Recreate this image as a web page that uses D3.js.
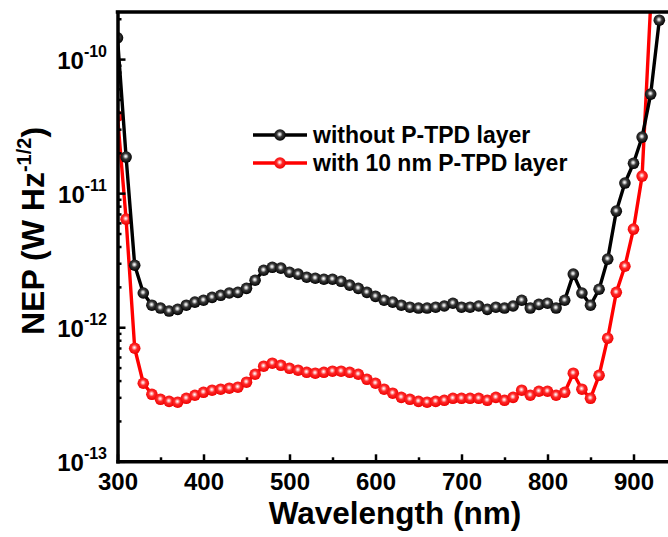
<!DOCTYPE html>
<html>
<head>
<meta charset="utf-8">
<script src="https://cdn.jsdelivr.net/npm/d3@7"></script>
<style>
    html, body { margin: 0; padding: 0; background: #fff; }
    svg { display: block; font-family: Arial, 'Liberation Sans', sans-serif; font-weight: bold; }
</style>
</head>
<body>
<svg id="nep-chart" width="668" height="537"></svg>
<script>
// wavelength in nm, one point every 10 nm
const wavelengths = [
    300, 310, 320, 330, 340, 350, 360, 370, 380, 390,
    400, 410, 420, 430, 440, 450, 460, 470, 480, 490,
    500, 510, 520, 530, 540, 550, 560, 570, 580, 590,
    600, 610, 620, 630, 640, 650, 660, 670, 680, 690,
    700, 710, 720, 730, 740, 750, 760, 770, 780, 790,
    800, 810, 820, 830, 840, 850, 860, 870, 880, 890,
    900, 910, 920, 930
];

// NEP (W Hz^-1/2) without P-TPD layer
const nepWithout = [
    1.44e-10, 1.86e-11, 2.90e-12, 1.80e-12, 1.46e-12, 1.39e-12, 1.32e-12, 1.36e-12, 1.46e-12, 1.54e-12,
    1.59e-12, 1.67e-12, 1.73e-12, 1.80e-12, 1.82e-12, 1.95e-12, 2.24e-12, 2.66e-12, 2.80e-12, 2.76e-12,
    2.57e-12, 2.49e-12, 2.36e-12, 2.32e-12, 2.28e-12, 2.28e-12, 2.20e-12, 2.06e-12, 1.95e-12, 1.82e-12,
    1.70e-12, 1.59e-12, 1.54e-12, 1.46e-12, 1.41e-12, 1.39e-12, 1.39e-12, 1.41e-12, 1.44e-12, 1.51e-12,
    1.41e-12, 1.41e-12, 1.44e-12, 1.36e-12, 1.41e-12, 1.39e-12, 1.44e-12, 1.59e-12, 1.39e-12, 1.48e-12,
    1.51e-12, 1.39e-12, 1.59e-12, 2.49e-12, 1.80e-12, 1.46e-12, 1.92e-12, 3.22e-12, 7.34e-12, 1.19e-11,
    1.67e-11, 2.62e-11, 5.48e-11, 1.95e-10
];

// NEP with 10 nm P-TPD layer (300 - 920 nm)
const nepWith = [
    3.76e-11, 6.40e-12, 6.97e-13, 3.82e-13, 3.16e-13, 2.90e-13, 2.80e-13, 2.76e-13, 2.95e-13, 3.11e-13,
    3.27e-13, 3.39e-13, 3.45e-13, 3.51e-13, 3.57e-13, 3.89e-13, 4.46e-13, 5.12e-13, 5.39e-13, 5.20e-13,
    4.94e-13, 4.78e-13, 4.61e-13, 4.54e-13, 4.61e-13, 4.70e-13, 4.70e-13, 4.61e-13, 4.46e-13, 4.09e-13,
    3.82e-13, 3.45e-13, 3.22e-13, 3.00e-13, 2.90e-13, 2.80e-13, 2.76e-13, 2.80e-13, 2.85e-13, 2.95e-13,
    2.95e-13, 2.95e-13, 2.95e-13, 2.85e-13, 3.00e-13, 2.85e-13, 3.00e-13, 3.39e-13, 3.11e-13, 3.33e-13,
    3.33e-13, 3.11e-13, 3.27e-13, 4.54e-13, 3.45e-13, 2.95e-13, 4.38e-13, 8.28e-13, 1.82e-12, 2.85e-12,
    5.39e-12, 1.34e-11, 2.60e-10
];

const xTicks = [300, 400, 500, 600, 700, 800, 900];
const xMinorTicks = [350, 450, 550, 650, 750, 850, 950];
const yTicks = [1e-13, 1e-12, 1e-11, 1e-10];
const yTickExponents = ['-13', '-12', '-11', '-10'];

const seriesNames = ['without P-TPD layer', 'with 10 nm P-TPD layer'];

(function () {
    'use strict';

    const svg = d3.select('#nep-chart');
    const left = 117.5;
    const top = 12;
    const bottom = 461.3;
    const width = 668;
    const markerR = 5.8;

    const x = d3.scaleLinear().domain([300, 945]).range([left, left + 0.86 * 645]);
    const y = d3.scaleLog().domain([1e-13, 2.245e-10]).range([bottom, top]);

    const series = [
        { name: seriesNames[0], color: '#000', grad: 'ball-black', values: nepWithout },
        { name: seriesNames[1], color: '#ff0000', grad: 'ball-red', values: nepWith },
    ];

    const defs = svg.append('defs');
    const gradStops = {
        'ball-black': [['0%', '#ffffff'], ['18%', '#c8c8c8'], ['45%', '#3a3a3a'], ['100%', '#000000']],
        'ball-red': [['0%', '#ffffff'], ['18%', '#ffb8b8'], ['45%', '#ff2a2a'], ['100%', '#ee0000']],
    };
    Object.keys(gradStops).forEach((id) => {
        const g = defs.append('radialGradient')
            .attr('id', id)
            .attr('cx', '47%').attr('cy', '44%').attr('r', '55%');
        gradStops[id].forEach(([off, col]) => {
            g.append('stop').attr('offset', off).attr('stop-color', col);
        });
    });

    defs.append('clipPath').attr('id', 'plot-clip')
        .append('rect')
        .attr('x', left).attr('y', top)
        .attr('width', width - left + 10).attr('height', bottom - top);

    const plot = svg.append('g').attr('clip-path', 'url(#plot-clip)');

    const line = d3.line()
        .x((d) => x(d[0]))
        .y((d) => y(d[1]));

    // red drawn first, black on top
    [series[1], series[0]].forEach((s) => {
        const pts = s.values.map((v, i) => [wavelengths[i], v]);
        plot.append('path')
            .datum(pts)
            .attr('fill', 'none')
            .attr('stroke', s.color)
            .attr('stroke-width', 3.4)
            .attr('stroke-linejoin', 'round')
            .attr('d', line);
        plot.selectAll(null)
            .data(pts)
            .enter()
            .append('circle')
            .attr('cx', (d) => x(d[0]))
            .attr('cy', (d) => y(d[1]))
            .attr('r', markerR)
            .attr('fill', `url(#${s.grad})`);
    });

    // axes
    const xAxis = svg.append('g')
        .attr('transform', `translate(0,${bottom})`)
        .call(d3.axisBottom(x).tickValues(xTicks).tickSizeInner(-7).tickSizeOuter(0).tickPadding(11.8));
    xAxis.selectAll('.tick text')
        .attr('font-size', 24)
        .attr('font-family', null)
        .attr('fill', '#000');

    svg.append('g')
        .attr('transform', `translate(0,${bottom})`)
        .call(d3.axisBottom(x).tickValues(xMinorTicks).tickSizeInner(-4).tickSizeOuter(0).tickFormat(''))
        .call((g) => g.select('.domain').remove());

    const yAxis = svg.append('g')
        .attr('transform', `translate(${left},0)`)
        .call(d3.axisLeft(y).tickValues(yTicks).tickSizeInner(-8).tickSizeOuter(0).tickFormat(''));

    yAxis.selectAll('.tick').each(function (d, i) {
        const t = d3.select(this).select('text')
            .attr('x', -10.5)
            .attr('y', 9)
            .attr('dy', null)
            .attr('text-anchor', 'end')
            .attr('font-family', null)
            .attr('fill', '#000');
        t.append('tspan').attr('font-size', 24).text('10');
        t.append('tspan').attr('font-size', 16).attr('dy', -12).text(yTickExponents[i]);
    });

    const yMinor = [];
    yTicks.forEach((dec) => {
        for (let k = 2; k <= 9; k++) {
            const v = dec * k;
            if (v <= y.domain()[1]) yMinor.push(v);
        }
    });
    svg.append('g')
        .attr('transform', `translate(${left},0)`)
        .call(d3.axisLeft(y).tickValues(yMinor).tickSizeInner(-4).tickSizeOuter(0).tickFormat(''))
        .call((g) => g.select('.domain').remove());

    svg.selectAll('.domain')
        .attr('stroke', '#000')
        .attr('stroke-width', 3.5)
        .attr('stroke-linecap', 'square');
    svg.selectAll('.tick line')
        .attr('stroke', '#000')
        .attr('stroke-width', 2.5);

    // top frame
    svg.append('line')
        .attr('x1', left).attr('x2', width + 5)
        .attr('y1', top).attr('y2', top)
        .attr('stroke', '#000')
        .attr('stroke-width', 3.5)
        .attr('stroke-linecap', 'square');

    // axis titles
    svg.append('text')
        .attr('x', 395)
        .attr('y', 524)
        .attr('text-anchor', 'middle')
        .attr('font-size', 31.5)
        .text('Wavelength (nm)');

    const yTitle = svg.append('text')
        .attr('transform', 'translate(44,231) rotate(-90)')
        .attr('text-anchor', 'middle')
        .attr('font-size', 32);
    yTitle.append('tspan').text('NEP (W Hz');
    yTitle.append('tspan').attr('font-size', 20).attr('dy', -13).text('-1/2');
    yTitle.append('tspan').attr('dy', 13).text(')');

    // legend
    const legend = svg.append('g');
    series.forEach((s, i) => {
        const ly = 135 + i * 28;
        legend.append('line')
            .attr('x1', 253).attr('x2', 307)
            .attr('y1', ly).attr('y2', ly)
            .attr('stroke', s.color)
            .attr('stroke-width', 3.4);
        legend.append('circle')
            .attr('cx', 280).attr('cy', ly)
            .attr('r', markerR)
            .attr('fill', `url(#${s.grad})`);
        legend.append('text')
            .attr('x', 313)
            .attr('y', ly + 8)
            .attr('font-size', 23)
            .text(s.name);
    });
})();
</script>
</body>
</html>
